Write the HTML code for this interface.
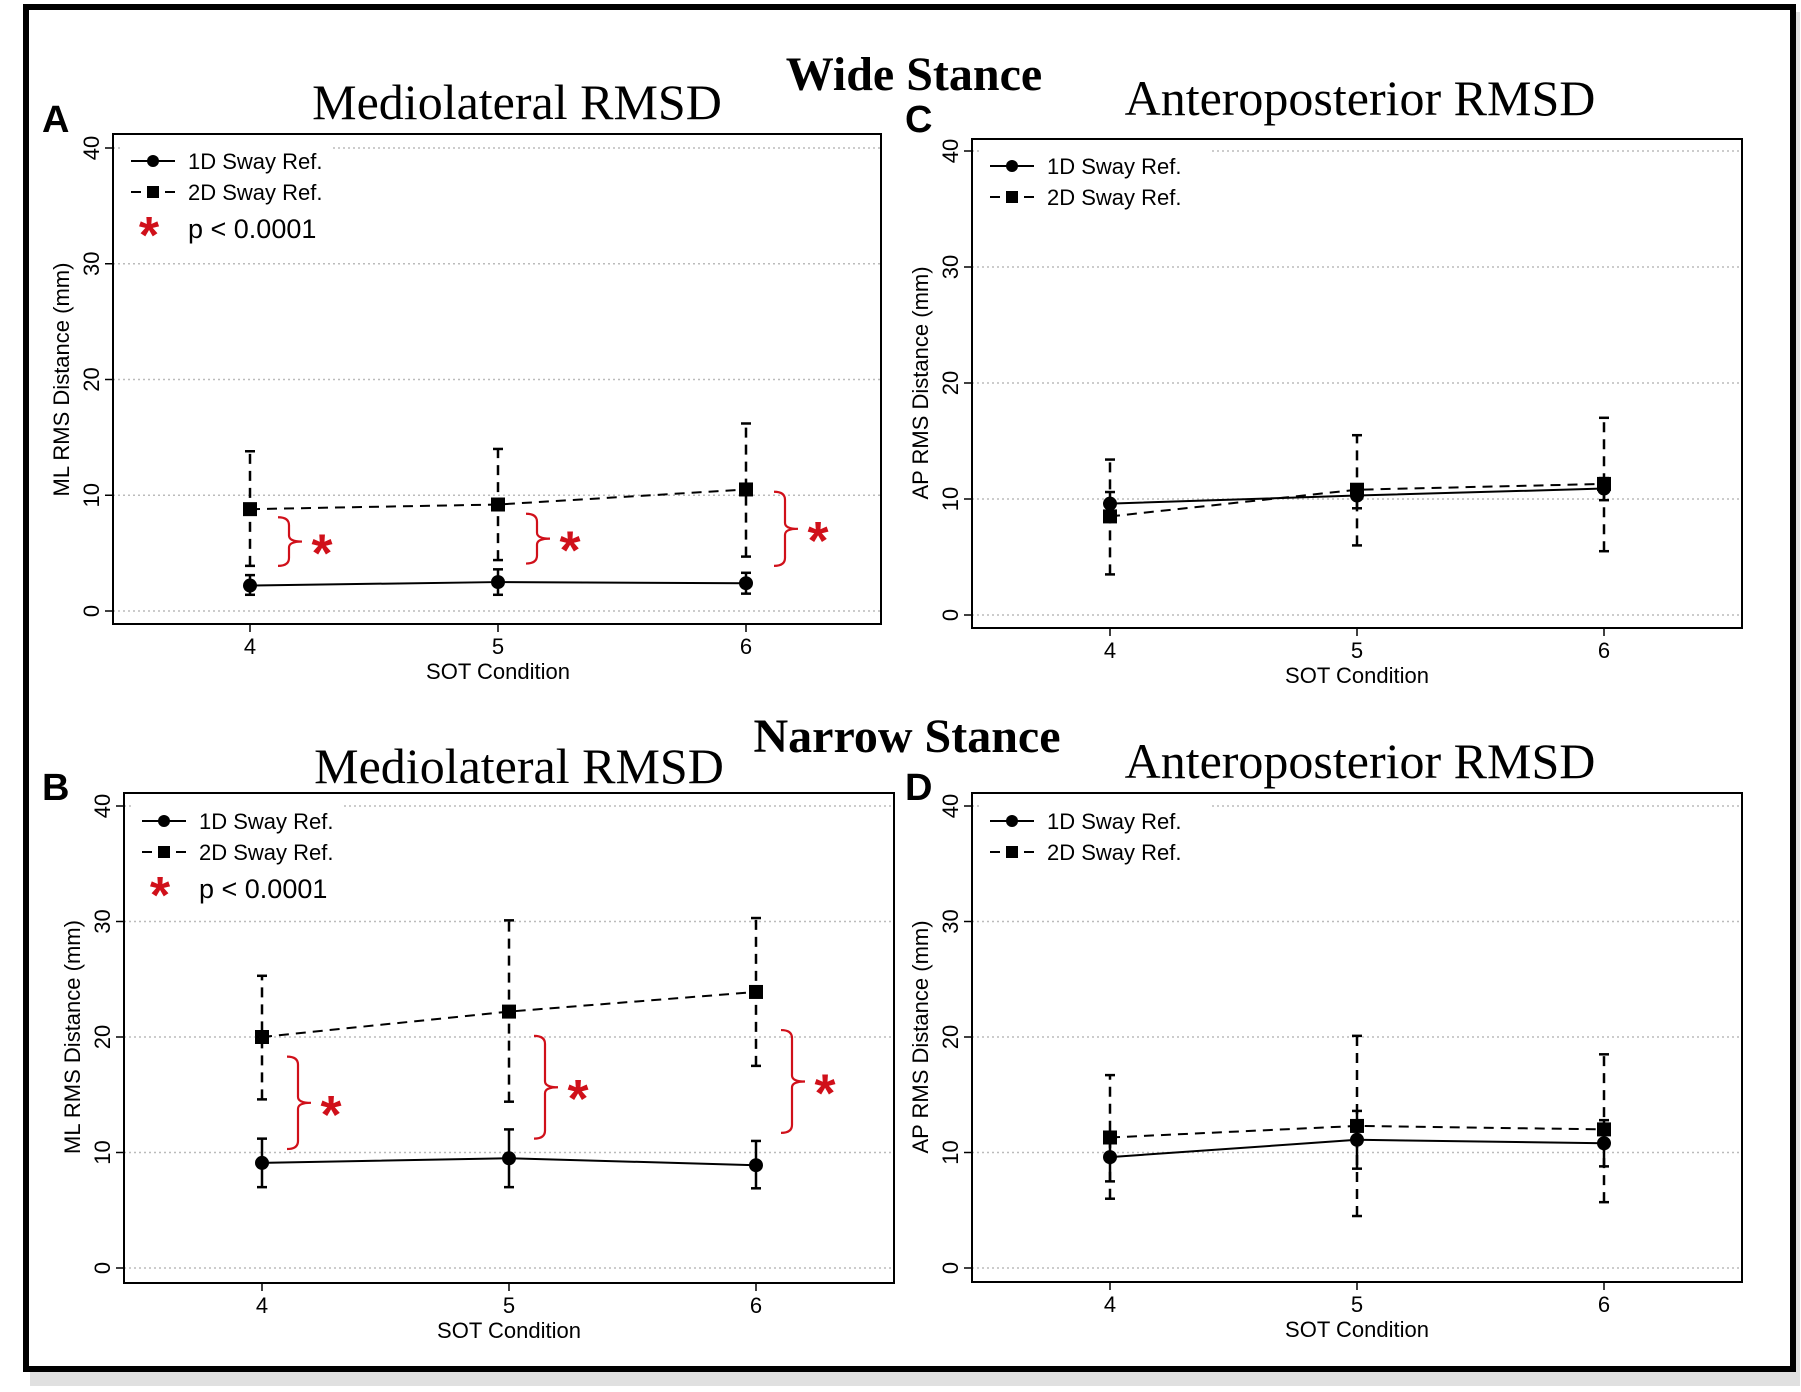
<!DOCTYPE html>
<html><head><meta charset="utf-8"><style>
html,body{margin:0;padding:0;background:#fff;}
svg{display:block;}
</style></head><body>
<svg id="fig" width="1801" height="1392" viewBox="0 0 1801 1392" xmlns="http://www.w3.org/2000/svg">
<rect x="0" y="0" width="1801" height="1392" fill="#fff"/>
<rect x="30" y="12" width="1770" height="1374" fill="#ccc" opacity="0.6"/>
<rect x="26" y="7" width="1767" height="1362" fill="#fff" stroke="#000" stroke-width="6"/>
<text x="914" y="90" font-family="Liberation Serif, serif" font-weight="bold" font-size="48" text-anchor="middle">Wide Stance</text>
<text x="907" y="752" font-family="Liberation Serif, serif" font-weight="bold" font-size="48" text-anchor="middle">Narrow Stance</text>
<g id="panels"></g>
</svg>
<script>
const categories = [4, 5, 6];
const yTicks = [0, 10, 20, 30, 40];
// Panel A: wide ML
const a1Mean = [2.2, 2.5, 2.4], a1Lo = [1.4, 1.4, 1.5], a1Hi = [3.1, 3.6, 3.3];
const a2Mean = [8.8, 9.2, 10.5], a2Lo = [3.9, 4.4, 4.7], a2Hi = [13.8, 14.0, 16.2];
const aBrLo = [3.9, 4.1, 3.9], aBrHi = [8.1, 8.4, 10.3];
// Panel C: wide AP
const c1Mean = [9.6, 10.3, 10.9], c1Lo = [8.6, 9.2, 9.9], c1Hi = [10.6, 11.2, 11.8];
const c2Mean = [8.5, 10.8, 11.3], c2Lo = [3.5, 6.0, 5.5], c2Hi = [13.4, 15.5, 17.0];
// Panel B: narrow ML
const b1Mean = [9.1, 9.5, 8.9], b1Lo = [7.0, 7.0, 6.9], b1Hi = [11.2, 12.0, 11.0];
const b2Mean = [20.0, 22.2, 23.9], b2Lo = [14.6, 14.4, 17.5], b2Hi = [25.3, 30.1, 30.3];
const bBrLo = [10.3, 11.2, 11.7], bBrHi = [18.3, 20.1, 20.6];
// Panel D: narrow AP
const d1Mean = [9.6, 11.1, 10.8], d1Lo = [7.5, 8.6, 8.8], d1Hi = [11.3, 13.6, 12.8];
const d2Mean = [11.3, 12.3, 12.0], d2Lo = [6.0, 4.5, 5.7], d2Hi = [16.7, 20.1, 18.5];

const NS = "http://www.w3.org/2000/svg";
const root = document.getElementById('panels');
function mk(tag, attrs, parent, text){
  const e = document.createElementNS(NS, tag);
  for (const k in attrs) e.setAttribute(k, attrs[k]);
  if (text !== undefined) e.textContent = text;
  (parent || root).appendChild(e);
  return e;
}
function panel(p){
  const g = mk('g', {});
  
  
  const xs = v => p.x4 + (v - 4) * (p.x5 - p.x4);
  const ys = v => p.y0 - v * (p.y0 - p.y40) / 40;
  const sans = 'Liberation Sans, sans-serif';
  const t = mk('text', {x: (p.left + p.right) / 2 + p.titleDx, y: p.titleY, 'font-family': 'Liberation Serif, serif', 'font-size': 50, 'text-anchor': 'middle'}, g, p.title);
  
  
  const L = mk('text', {x: p.letterX, y: p.letterY, 'font-family': sans, 'font-weight': 'bold', 'font-size': 38}, g, p.id.toUpperCase());
  
  
  yTicks.forEach(v => {
    const gl = mk('line', {x1: p.left, x2: p.right, y1: ys(v), y2: ys(v), stroke: '#bbb', 'stroke-width': 1.5, 'stroke-dasharray': '2 3'}, g);
    
    
    const tk = mk('line', {x1: p.left - 8, x2: p.left, y1: ys(v), y2: ys(v), stroke: '#000', 'stroke-width': 1.5}, g);
    
    
    const tl = mk('text', {x: 0, y: 0, 'font-family': sans, 'font-size': 22, 'text-anchor': 'middle', transform: `translate(${p.left - 14},${ys(v)}) rotate(-90)`}, g, String(v));
    
    
  });
  const yt = mk('text', {x: 0, y: 0, 'font-family': sans, 'font-size': 22, 'text-anchor': 'middle', transform: `translate(${p.left - 44},${ys(20)}) rotate(-90)`}, g, p.yTitle);
  
  
  categories.forEach(c => {
    const tk = mk('line', {x1: xs(c), x2: xs(c), y1: p.bottom, y2: p.bottom + 8, stroke: '#000', 'stroke-width': 1.5}, g);
    
    
    const tl = mk('text', {x: xs(c), y: p.bottom + 30, 'font-family': sans, 'font-size': 22, 'text-anchor': 'middle'}, g, String(c));
    
    
  });
  const xt = mk('text', {x: xs(5), y: p.bottom + 55, 'font-family': sans, 'font-size': 22, 'text-anchor': 'middle'}, g, 'SOT Condition');
  
  
  const lg = mk('g', {}, g);
  
  
  const lx = p.legX, ly = p.legY;
  mk('rect', {x: lx - 10, y: ly - 20, width: p.sig ? 210 : 230, height: p.sig ? 115 : 70, fill: '#fff'}, lg);
  mk('line', {x1: lx, x2: lx + 44, y1: ly, y2: ly, stroke: '#000', 'stroke-width': 2}, lg);
  mk('circle', {cx: lx + 22, cy: ly, r: 6, fill: '#000'}, lg);
  const e1 = mk('text', {x: lx + 57, y: ly + 8, 'font-family': sans, 'font-size': 22}, lg, '1D Sway Ref.');
  
  
  mk('line', {x1: lx, x2: lx + 44, y1: ly + 31, y2: ly + 31, stroke: '#000', 'stroke-width': 2, 'stroke-dasharray': '10 7'}, lg);
  mk('rect', {x: lx + 16, y: ly + 25, width: 12, height: 12, fill: '#000'}, lg);
  const e2 = mk('text', {x: lx + 57, y: ly + 39, 'font-family': sans, 'font-size': 22}, lg, '2D Sway Ref.');
  
  
  if (p.sig) {
    const s = mk('text', {x: lx + 18, y: ly + 92, 'font-family': sans, 'font-weight': 'bold', 'font-size': 52, fill: '#d0101a', 'text-anchor': 'middle'}, lg, '*');
    
    
    const st = mk('text', {x: lx + 57, y: ly + 77, 'font-family': sans, 'font-size': 27}, lg, 'p < 0.0001');
    
    
  }
  function series(mean, lo, hi, dashed, sq, name){
    const sg = mk('g', {}, g);
    
    
    const da = dashed ? {'stroke-dasharray': '10 7'} : {};
    categories.forEach((c, i) => {
      const eb = mk('line', Object.assign({x1: xs(c), x2: xs(c), y1: ys(lo[i]), y2: ys(hi[i]), stroke: '#000', 'stroke-width': 2.5}, da), sg);
      
      
      [lo[i], hi[i]].forEach(v => mk('line', {x1: xs(c) - 5, x2: xs(c) + 5, y1: ys(v), y2: ys(v), stroke: '#000', 'stroke-width': 2.5}, sg));
    });
    const pts = categories.map((c, i) => xs(c) + ',' + ys(mean[i])).join(' ');
    const ln = mk('polyline', Object.assign({points: pts, fill: 'none', stroke: '#000', 'stroke-width': 2}, da), sg);
    
    
    categories.forEach((c, i) => {
      let m;
      if (sq) m = mk('rect', {x: xs(c) - 7, y: ys(mean[i]) - 7, width: 14, height: 14, fill: '#000'}, sg);
      else m = mk('circle', {cx: xs(c), cy: ys(mean[i]), r: 7, fill: '#000'}, sg);
      
      
    });
  }
  series(p.s1m, p.s1l, p.s1h, false, false, 'series-1d');
  series(p.s2m, p.s2l, p.s2h, true, true, 'series-2d');
  if (p.brLo) {
    categories.forEach((c, i) => {
      const bx = xs(c) + p.brOff, top = ys(p.brHi[i]), bot = ys(p.brLo[i]), mid = (top + bot) / 2;
      const d = `M${bx},${top} Q${bx + 11},${top} ${bx + 11},${top + 8} L${bx + 11},${mid - 6} Q${bx + 11},${mid} ${bx + 24},${mid} M${bx + 11},${mid + 6} Q${bx + 11},${mid} ${bx + 24},${mid} M${bx + 11},${mid + 6} L${bx + 11},${bot - 8} Q${bx + 11},${bot} ${bx},${bot}`;
      const br = mk('path', {d: d, fill: 'none', stroke: '#d0101a', 'stroke-width': 2.2}, g);
      
      
      const st = mk('text', {x: bx + 44, y: mid + 30, 'font-family': sans, 'font-weight': 'bold', 'font-size': 54, fill: '#d0101a', 'text-anchor': 'middle'}, g, '*');
      
      
    });
  }
  const box = mk('rect', {x: p.left, y: p.top, width: p.right - p.left, height: p.bottom - p.top, fill: 'none', stroke: '#000', 'stroke-width': 2}, g);
  
  
}
panel({id: 'a', title: 'Mediolateral RMSD', titleDx: 20, titleY: 119, letterX: 42, letterY: 132, left: 113, right: 881, top: 134, bottom: 624, y40: 148, y0: 611, x4: 250, x5: 498, yTitle: 'ML RMS Distance (mm)', legX: 131, legY: 161, sig: true,
  s1m: a1Mean, s1l: a1Lo, s1h: a1Hi, s2m: a2Mean, s2l: a2Lo, s2h: a2Hi, brLo: aBrLo, brHi: aBrHi, brOff: 28});
panel({id: 'c', title: 'Anteroposterior RMSD', titleDx: 3, titleY: 115, letterX: 905, letterY: 132, left: 972, right: 1742, top: 139, bottom: 628, y40: 151, y0: 615, x4: 1110, x5: 1357, yTitle: 'AP RMS Distance (mm)', legX: 990, legY: 166, sig: false,
  s1m: c1Mean, s1l: c1Lo, s1h: c1Hi, s2m: c2Mean, s2l: c2Lo, s2h: c2Hi});
panel({id: 'b', title: 'Mediolateral RMSD', titleDx: 10, titleY: 783, letterX: 42, letterY: 800, left: 124, right: 894, top: 793, bottom: 1283, y40: 806, y0: 1268, x4: 262, x5: 509, yTitle: 'ML RMS Distance (mm)', legX: 142, legY: 821, sig: true,
  s1m: b1Mean, s1l: b1Lo, s1h: b1Hi, s2m: b2Mean, s2l: b2Lo, s2h: b2Hi, brLo: bBrLo, brHi: bBrHi, brOff: 25});
panel({id: 'd', title: 'Anteroposterior RMSD', titleDx: 3, titleY: 778, letterX: 905, letterY: 800, left: 972, right: 1742, top: 793, bottom: 1282, y40: 806, y0: 1268, x4: 1110, x5: 1357, yTitle: 'AP RMS Distance (mm)', legX: 990, legY: 821, sig: false,
  s1m: d1Mean, s1l: d1Lo, s1h: d1Hi, s2m: d2Mean, s2l: d2Lo, s2h: d2Hi});
</script>
</body></html>
